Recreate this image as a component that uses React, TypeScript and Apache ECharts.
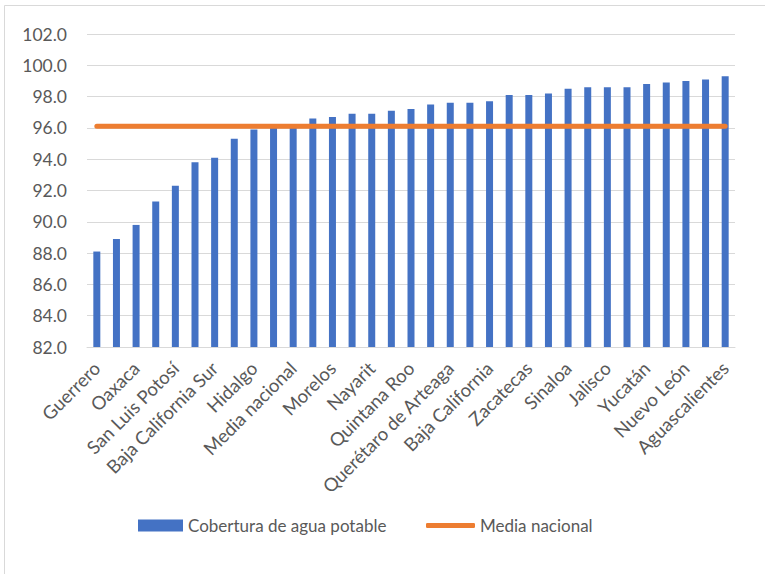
import React, { useEffect, useRef } from "react";
import * as echarts from "echarts";

const categories = [
  "Guerrero", "Chiapas", "Oaxaca", "Veracruz", "San Luis Potosí", "Tabasco",
  "Baja California Sur", "Puebla", "Hidalgo", "Campeche", "Media nacional",
  "Durango", "Morelos", "Sonora", "Nayarit", "Michoacán", "Quintana Roo",
  "Chihuahua", "Querétaro de Arteaga", "Tamaulipas", "Baja California",
  "Guanajuato", "Zacatecas", "México", "Sinaloa", "Ciudad de México", "Jalisco",
  "Tlaxcala", "Yucatán", "Colima", "Nuevo León", "Coahuila", "Aguascalientes",
];

const cobertura = [
  88.1, 88.9, 89.8, 91.3, 92.3, 93.8, 94.1, 95.3, 95.9, 96.0, 96.1,
  96.6, 96.7, 96.9, 96.9, 97.1, 97.2, 97.5, 97.6, 97.6, 97.7,
  98.1, 98.1, 98.2, 98.5, 98.6, 98.6, 98.6, 98.8, 98.9, 99.0, 99.1, 99.3,
];

const mediaNacional = [
  96.1, 96.1, 96.1, 96.1, 96.1, 96.1, 96.1, 96.1, 96.1, 96.1, 96.1,
  96.1, 96.1, 96.1, 96.1, 96.1, 96.1, 96.1, 96.1, 96.1, 96.1,
  96.1, 96.1, 96.1, 96.1, 96.1, 96.1, 96.1, 96.1, 96.1, 96.1, 96.1, 96.1,
];

const SERIES_BAR = "Cobertura de agua potable";
const SERIES_LINE = "Media nacional";

const FONT = "Lato, 'Open Sans', sans-serif";
const TEXT = "#595959";

export default function App() {
  const ref = useRef<HTMLDivElement>(null);

  useEffect(() => {
    document.body.style.margin = "0";
    if (!ref.current) return;
    const chart = echarts.init(ref.current, undefined, { renderer: "svg" });
    chart.setOption({
      animation: false,
      backgroundColor: "#ffffff",
      textStyle: { fontFamily: FONT },
      graphic: [
        {
          type: "rect",
          shape: { x: 4.5, y: 5.5, width: 800, height: 600 },
          style: { fill: "none", stroke: "#D9D9D9", lineWidth: 1 },
          silent: true,
        },
      ],
      grid: { left: 87, right: 30, top: 34, bottom: 227, containLabel: false },
      legend: [
        {
          data: [SERIES_BAR],
          left: 133,
          top: 512,
          icon: "rect",
          itemWidth: 45,
          itemHeight: 12,
          textStyle: { color: TEXT, fontSize: 17, fontFamily: FONT },
        },
        {
          data: [SERIES_LINE],
          left: 421,
          top: 512,
          icon: "roundRect",
          itemWidth: 49,
          itemHeight: 5,
          itemGap: 4,
          textStyle: { color: TEXT, fontSize: 17, fontFamily: FONT },
        },
      ],
      xAxis: {
        type: "category",
        data: categories,
        boundaryGap: true,
        axisLine: { lineStyle: { color: "#D9D9D9", width: 1 } },
        axisTick: { show: false },
        axisLabel: {
          interval: 1,
          rotate: 45,
          color: TEXT,
          fontSize: 18.5,
          fontFamily: FONT,
          margin: 18,
        },
      },
      yAxis: {
        type: "value",
        min: 82,
        max: 102,
        interval: 2,
        axisLine: { show: false },
        axisTick: { show: false },
        splitLine: { lineStyle: { color: "#D9D9D9", width: 1 } },
        axisLabel: {
          color: TEXT,
          fontSize: 17.5,
          fontFamily: FONT,
          margin: 20,
          formatter: (v: number) => v.toFixed(1),
        },
      },
      series: [
        {
          name: SERIES_BAR,
          type: "bar",
          data: cobertura,
          barWidth: 7,
          itemStyle: { color: "#4472C4" },
        },
        {
          name: SERIES_LINE,
          type: "line",
          data: mediaNacional,
          symbol: "none",
          z: 5,
          itemStyle: { color: "#ED7D31" },
          lineStyle: { color: "#ED7D31", width: 5, cap: "round" },
        },
      ],
    });
    return () => chart.dispose();
  }, []);

  return <div ref={ref} style={{ width: 765, height: 574 }} />;
}
